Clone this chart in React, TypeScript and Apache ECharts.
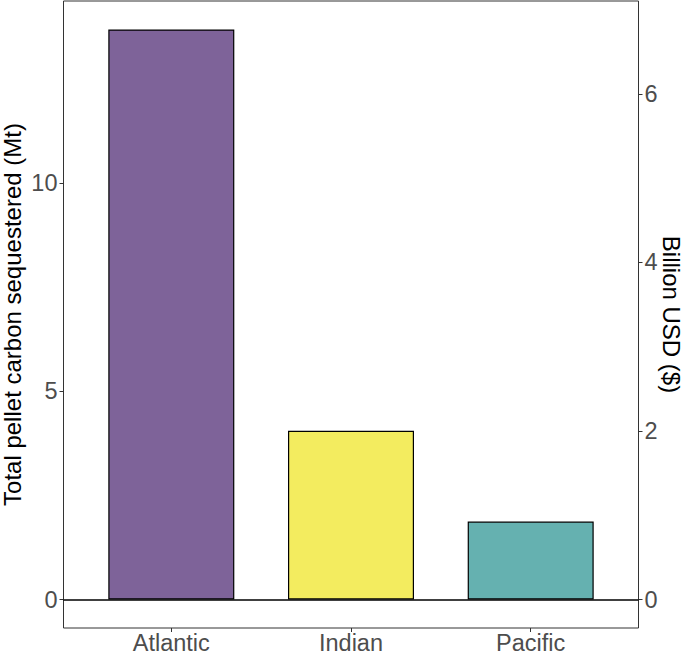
import React, { useEffect, useRef } from "react";
import * as echarts from "echarts";

const categories = ["Atlantic", "Indian", "Pacific"];
const carbonMt = [13.68, 4.05, 1.87];
const barColors = ["#7E6399", "#F3EC5F", "#65B1B0"];
const leftTicks = [0, 5, 10];
const rightTicks = [0, 2, 4, 6];
const usdPerMt = 0.4945;

export default function App() {
  const ref = useRef<HTMLDivElement>(null);
  useEffect(() => {
    if (!ref.current) return;
    const chart = echarts.init(ref.current, null, { renderer: "svg" });
    const maxV = Math.max(...carbonMt);
    const pad = maxV * 0.05;
    const yMin = -pad;
    const yMax = maxV + pad;
    const textColor = "#4D4D4D";
    const font = "Liberation Sans";
    const tickSize = 23.5;
    chart.setOption({
      animation: false,
      grid: {
        left: 63.5,
        right: 46.5,
        top: 1,
        bottom: 27,
        outerBoundsMode: "none",
        containLabel: false,
        show: true,
        borderColor: "#333333",
        borderWidth: 1,
        backgroundColor: "transparent",
      },
      xAxis: {
        type: "value",
        min: 0.4,
        max: categories.length + 0.6,
        axisLine: { show: false, onZero: false },
        splitLine: { show: false },
        axisTick: {
          show: true,
          customValues: categories.map((_, i) => i + 1),
          length: 4,
          lineStyle: { color: "#333333" },
        },
        axisLabel: {
          customValues: categories.map((_, i) => i + 1),
          formatter: (v: number) => categories[Math.round(v) - 1] ?? "",
          color: textColor,
          fontFamily: font,
          fontSize: tickSize,
          lineHeight: 24,
          margin: 3,
        },
      },
      yAxis: [
        {
          type: "value",
          position: "left",
          min: yMin,
          max: yMax,
          name: "Total pellet carbon sequestered (Mt)",
          nameLocation: "middle",
          nameRotate: 90,
          nameGap: 39,
          nameMoveOverlap: false,
          nameTextStyle: { color: "#000000", fontFamily: font, fontSize: 24 },
          axisLine: { show: false },
          splitLine: { show: false },
          axisTick: {
            show: true,
            customValues: leftTicks,
            length: 4,
            lineStyle: { color: "#333333" },
          },
          axisLabel: {
            customValues: leftTicks,
            color: textColor,
            fontFamily: font,
            fontSize: tickSize,
            margin: 6,
          },
        },
        {
          type: "value",
          position: "right",
          min: yMin * usdPerMt,
          max: yMax * usdPerMt,
          name: "Billion USD ($)",
          nameLocation: "middle",
          nameRotate: -90,
          nameGap: 21,
          nameMoveOverlap: false,
          nameTextStyle: { color: "#000000", fontFamily: font, fontSize: 24, lineHeight: 24 },
          axisLine: { show: false },
          splitLine: { show: false },
          axisTick: {
            show: true,
            customValues: rightTicks,
            length: 4,
            lineStyle: { color: "#333333" },
          },
          axisLabel: {
            customValues: rightTicks,
            color: textColor,
            fontFamily: font,
            fontSize: tickSize,
            margin: 6,
          },
        },
      ],
      series: [
        {
          type: "bar",
          yAxisIndex: 0,
          barWidth: 126,
          data: carbonMt.map((v, i) => ({
            value: [i + 1, v],
            itemStyle: { color: barColors[i], borderColor: "#000000", borderWidth: 1.2 },
          })),
          markLine: {
            silent: true,
            symbol: "none",
            label: { show: false },
            lineStyle: { color: "#000000", width: 1.6, type: "solid" },
            data: [{ yAxis: 0 }],
          },
        },
      ],
    });
    return () => chart.dispose();
  }, []);
  return <div ref={ref} style={{ width: 685, height: 655, position: "absolute", left: 0, top: 0 }} />;
}
